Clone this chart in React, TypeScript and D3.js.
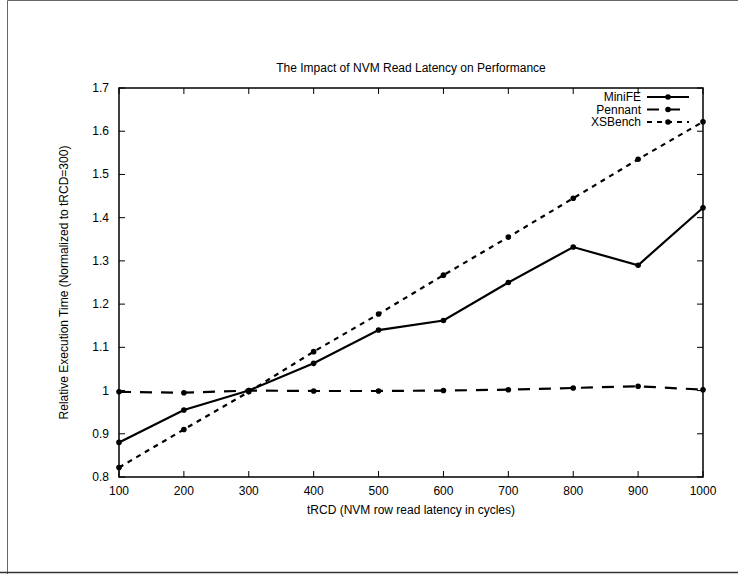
import React from "react";
import * as d3 from "d3";

const xValues = [100, 200, 300, 400, 500, 600, 700, 800, 900, 1000];
const miniFE = [0.88, 0.955, 1.0, 1.063, 1.14, 1.162, 1.25, 1.332, 1.29, 1.423];
const pennant = [0.997, 0.995, 1.0, 0.999, 0.999, 1.0, 1.002, 1.006, 1.01, 1.002];
const xsBench = [0.822, 0.91, 0.997, 1.09, 1.177, 1.267, 1.355, 1.445, 1.535, 1.622];
const yTicks = [0.8, 0.9, 1, 1.1, 1.2, 1.3, 1.4, 1.5, 1.6, 1.7];
const seriesNames = ["MiniFE", "Pennant", "XSBench"];

const W = 738;
const H = 574;
const L = 119, R = 703, T = 88, B = 477;
const FONT = "'Liberation Sans', Arial, Helvetica, sans-serif";

export default function App() {
  const x = d3.scaleLinear().domain([100, 1000]).range([L, R]);
  const y = d3.scaleLinear().domain([0.8, 1.7]).range([B, T]);
  const line = d3.line<[number, number]>().x((d) => x(d[0])).y((d) => y(d[1]));
  const series = [
    { name: seriesNames[0], vals: miniFE, dash: "none" },
    { name: seriesNames[1], vals: pennant, dash: "12,9" },
    { name: seriesNames[2], vals: xsBench, dash: "5,5" },
  ];
  const tickLen = 6;
  return (
    <svg width={W} height={H} style={{ position: "absolute", left: 0, top: 0, background: "#fff" }} fontFamily={FONT}>
      <rect x={0} y={0} width={W} height={H} fill="#fff" />
      <path d={`M7.5,${H} V0.5 H${W}`} fill="none" stroke="#666" strokeWidth={1} />
      <path d={`M0,572.5 H${W}`} stroke="#333" strokeWidth={1.5} />
      <text x={(L + R) / 2} y={72} textAnchor="middle" fontSize={12}>The Impact of NVM Read Latency on Performance</text>
      {/* ticks */}
      {xValues.map((v) => (
        <g key={"xt" + v}>
          <line x1={x(v)} x2={x(v)} y1={B} y2={B - tickLen} stroke="#000" strokeWidth={1} />
          <line x1={x(v)} x2={x(v)} y1={T} y2={T + tickLen} stroke="#000" strokeWidth={1} />
          <text x={x(v)} y={B + 18} textAnchor="middle" fontSize={12}>{v}</text>
        </g>
      ))}
      {yTicks.map((v) => (
        <g key={"yt" + v}>
          <line x1={L} x2={L + tickLen} y1={y(v)} y2={y(v)} stroke="#000" strokeWidth={1} />
          <line x1={R} x2={R - tickLen} y1={y(v)} y2={y(v)} stroke="#000" strokeWidth={1} />
          <text x={L - 10} y={y(v) + 4} textAnchor="end" fontSize={12}>{String(v)}</text>
        </g>
      ))}
      <rect x={L} y={T} width={R - L} height={B - T} fill="none" stroke="#000" strokeWidth={1.5} />
      <text x={(L + R) / 2} y={514} textAnchor="middle" fontSize={12}>tRCD (NVM row read latency in cycles)</text>
      <text transform={`translate(68,${(T + B) / 2}) rotate(-90)`} textAnchor="middle" fontSize={12}>Relative Execution Time (Normalized to tRCD=300)</text>
      {series.map((s) => {
        const pts = xValues.map((v, i) => [v, s.vals[i]] as [number, number]);
        return (
          <g key={s.name}>
            <path d={line(pts) || ""} fill="none" stroke="#000" strokeWidth={2.2} strokeDasharray={s.dash} />
            {pts.map((p, i) => (
              <circle key={i} cx={x(p[0])} cy={y(p[1])} r={2.8} fill="#000" />
            ))}
          </g>
        );
      })}
      {series.map((s, i) => {
        const ly = 97 + i * 12.5;
        return (
          <g key={"lg" + s.name}>
            <text x={641} y={ly + 4} textAnchor="end" fontSize={12}>{s.name}</text>
            <line x1={647} x2={689} y1={ly} y2={ly} stroke="#000" strokeWidth={2.2} strokeDasharray={s.dash} />
            <circle cx={668} cy={ly} r={2.8} fill="#000" />
          </g>
        );
      })}
    </svg>
  );
}
